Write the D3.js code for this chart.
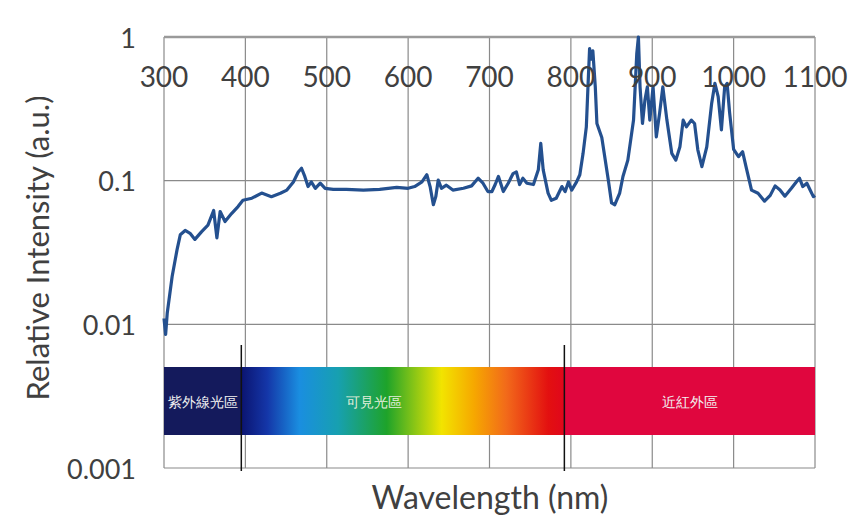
<!DOCTYPE html>
<html>
<head>
<meta charset="utf-8">
<script src="https://cdn.jsdelivr.net/npm/d3@7"></script>
<style>
  body { margin: 0; background: #fff; }
  svg text { font-family: Lato, "Open Sans", sans-serif; }
</style>
</head>
<body>
<div id="chart"></div>
<script>
// wavelength (nm) and relative intensity
const wavelength = [300, 302, 304, 310, 316, 320, 326, 332, 338, 346, 354, 361, 365, 369, 375, 383, 391, 397,
  408, 420, 432, 443, 451, 459, 465, 469, 473, 477, 481, 486, 492, 498, 508, 524, 545, 565, 586, 600, 608,
  617, 623, 627, 631, 634, 637, 641, 647, 655, 668, 678, 686, 692, 698, 703, 707, 711, 717, 723, 729, 733,
  737, 741, 746, 754, 760, 763, 766, 772, 776, 782, 789, 793, 797, 801, 807, 811, 815, 819, 821, 823, 825,
  827, 830, 832, 838, 846, 850, 854, 860, 864, 870, 877, 881, 883, 885, 888, 891, 894, 897, 901, 905, 909,
  913, 918, 924, 929, 934, 938, 942, 948, 952, 956, 961, 967, 973, 977, 981, 985, 989, 992, 995, 1000, 1006,
  1011, 1016, 1022, 1030, 1038, 1045, 1051, 1057, 1063, 1071, 1077, 1081, 1085, 1090, 1094, 1098, 1100];
const intensity = [0.011, 0.0085, 0.012, 0.0215, 0.033, 0.042, 0.045, 0.043, 0.039, 0.044, 0.049, 0.062, 0.040,
  0.061, 0.052, 0.059, 0.066, 0.073, 0.0755, 0.082, 0.0774, 0.0817, 0.086, 0.098, 0.115, 0.122, 0.107, 0.091,
  0.098, 0.0885, 0.096, 0.0885, 0.087, 0.087, 0.086, 0.087, 0.0898, 0.0885, 0.091, 0.098, 0.11, 0.091, 0.068,
  0.0774, 0.101, 0.0885, 0.093, 0.086, 0.0885, 0.092, 0.104, 0.096, 0.084, 0.084, 0.094, 0.107, 0.084, 0.096,
  0.112, 0.115, 0.094, 0.104, 0.096, 0.094, 0.119, 0.182, 0.119, 0.082, 0.073, 0.0755, 0.091, 0.084, 0.098,
  0.086, 0.098, 0.11, 0.155, 0.237, 0.45, 0.83, 0.7, 0.8, 0.45, 0.25, 0.2, 0.101, 0.07, 0.068, 0.082, 0.107,
  0.139, 0.264, 0.77, 1.0, 0.45, 0.25, 0.364, 0.45, 0.264, 0.45, 0.202, 0.294, 0.45, 0.264, 0.155, 0.139,
  0.172, 0.264, 0.237, 0.264, 0.25, 0.164, 0.125, 0.172, 0.345, 0.476, 0.384, 0.226, 0.45, 0.476, 0.3, 0.165,
  0.147, 0.159, 0.12, 0.086, 0.0817, 0.072, 0.079, 0.092, 0.0862, 0.078, 0.0885, 0.098, 0.104, 0.0909, 0.096,
  0.0862, 0.0774, 0.079];

const xTicks = [300, 400, 500, 600, 700, 800, 900, 1000, 1100];
const yTicks = [1, 0.1, 0.01, 0.001];
const yTickLabels = ["1", "0.1", "0.01", "0.001"];

// spectral regions (nm)
const regionNames = ["紫外線光區", "可見光區", "近紅外區"];
const regionStart = [300, 395, 792];
const regionEnd = [395, 792, 1100];

const width = 849, height = 517;
const plot = { left: 164, right: 815, top: 37, bottom: 468 };

const svg = d3.select("#chart").append("svg")
  .attr("width", width).attr("height", height);

const x = d3.scaleLinear().domain([300, 1100]).range([plot.left, plot.right]);
const y = d3.scaleLog().domain([0.001, 1]).range([plot.bottom, plot.top]);

// vertical gridlines
svg.append("g").selectAll("line").data(xTicks).enter().append("line")
  .attr("x1", d => x(d)).attr("x2", d => x(d))
  .attr("y1", plot.top).attr("y2", plot.bottom)
  .attr("stroke", "#8a8a8a").attr("stroke-width", 1.2);

// horizontal gridlines
svg.append("g").selectAll("line").data(yTicks.slice(1)).enter().append("line")
  .attr("x1", plot.left).attr("x2", plot.right)
  .attr("y1", d => y(d)).attr("y2", d => y(d))
  .attr("stroke", "#8a8a8a").attr("stroke-width", 1.2);

// top axis line (x axis crosses at 1)
svg.append("line")
  .attr("x1", plot.left).attr("x2", plot.right)
  .attr("y1", plot.top).attr("y2", plot.top)
  .attr("stroke", "#9a9a9a").attr("stroke-width", 2.5);

// spectrum band
const defs = svg.append("defs");
const grad = defs.append("linearGradient").attr("id", "visible")
  .attr("x1", "0%").attr("x2", "100%");
const stops = [
  [0, "#0b1470"], [0.08, "#1436a8"], [0.18, "#1a8ee0"], [0.3, "#17a0b0"],
  [0.45, "#1ea32a"], [0.56, "#a8cf10"], [0.62, "#f2e400"], [0.72, "#f6a800"],
  [0.82, "#f26a1a"], [0.95, "#e31010"], [1, "#e0061c"]
];
grad.selectAll("stop").data(stops).enter().append("stop")
  .attr("offset", d => d[0]).attr("stop-color", d => d[1]);

const bandTop = 367, bandBottom = 435;
const bandFill = ["#141a5c", "url(#visible)", "#e0063e"];
svg.append("g").selectAll("rect").data(regionNames).enter().append("rect")
  .attr("x", (d, i) => x(regionStart[i]))
  .attr("width", (d, i) => x(regionEnd[i]) - x(regionStart[i]))
  .attr("y", bandTop).attr("height", bandBottom - bandTop)
  .attr("fill", (d, i) => bandFill[i]);

svg.append("g").selectAll("text").data(regionNames).enter().append("text")
  .attr("x", (d, i) => i === 1 ? x(regionStart[i]) + 0.41 * (x(regionEnd[i]) - x(regionStart[i]))
                               : (x(regionStart[i]) + x(regionEnd[i])) / 2)
  .attr("y", (bandTop + bandBottom) / 2)
  .attr("text-anchor", "middle").attr("dominant-baseline", "central")
  .attr("font-family", "'Noto Sans CJK TC', sans-serif")
  .attr("font-size", 14).attr("fill", (d, i) => i === 1 ? "#e2eedc" : "#f2f2f2")
  .text(d => d);

// region boundary markers
svg.append("g").selectAll("line").data(regionStart.slice(1)).enter().append("line")
  .attr("x1", d => x(d)).attr("x2", d => x(d))
  .attr("y1", 345).attr("y2", 471)
  .attr("stroke", "#111").attr("stroke-width", 1.5);

// spectrum line
const line = d3.line()
  .x((d, i) => x(wavelength[i]))
  .y(d => y(d))
  .curve(d3.curveLinear);
svg.append("path")
  .datum(intensity)
  .attr("d", line)
  .attr("fill", "none")
  .attr("stroke", "#24508f")
  .attr("stroke-width", 3.2)
  .attr("stroke-linejoin", "round");

// tick labels
svg.append("g").selectAll("text").data(xTicks).enter().append("text")
  .attr("x", d => x(d)).attr("y", 76)
  .attr("text-anchor", "middle").attr("dominant-baseline", "central")
  .attr("font-size", 28).attr("fill", "#404040")
  .text(d => d);

svg.append("g").selectAll("text").data(yTicks).enter().append("text")
  .attr("x", 136).attr("y", d => y(d))
  .attr("text-anchor", "end").attr("dominant-baseline", "central")
  .attr("font-size", 27).attr("fill", "#404040")
  .text((d, i) => yTickLabels[i]);

// axis titles
svg.append("text")
  .attr("x", 490).attr("y", 496)
  .attr("text-anchor", "middle").attr("dominant-baseline", "central")
  .attr("font-size", 32).attr("fill", "#404040")
  .text("Wavelength (nm)");

svg.append("text")
  .attr("transform", "translate(37,248) rotate(-90)")
  .attr("text-anchor", "middle").attr("dominant-baseline", "central")
  .attr("font-size", 31).attr("fill", "#404040")
  .text("Relative Intensity (a.u.)");
</script>
</body>
</html>
